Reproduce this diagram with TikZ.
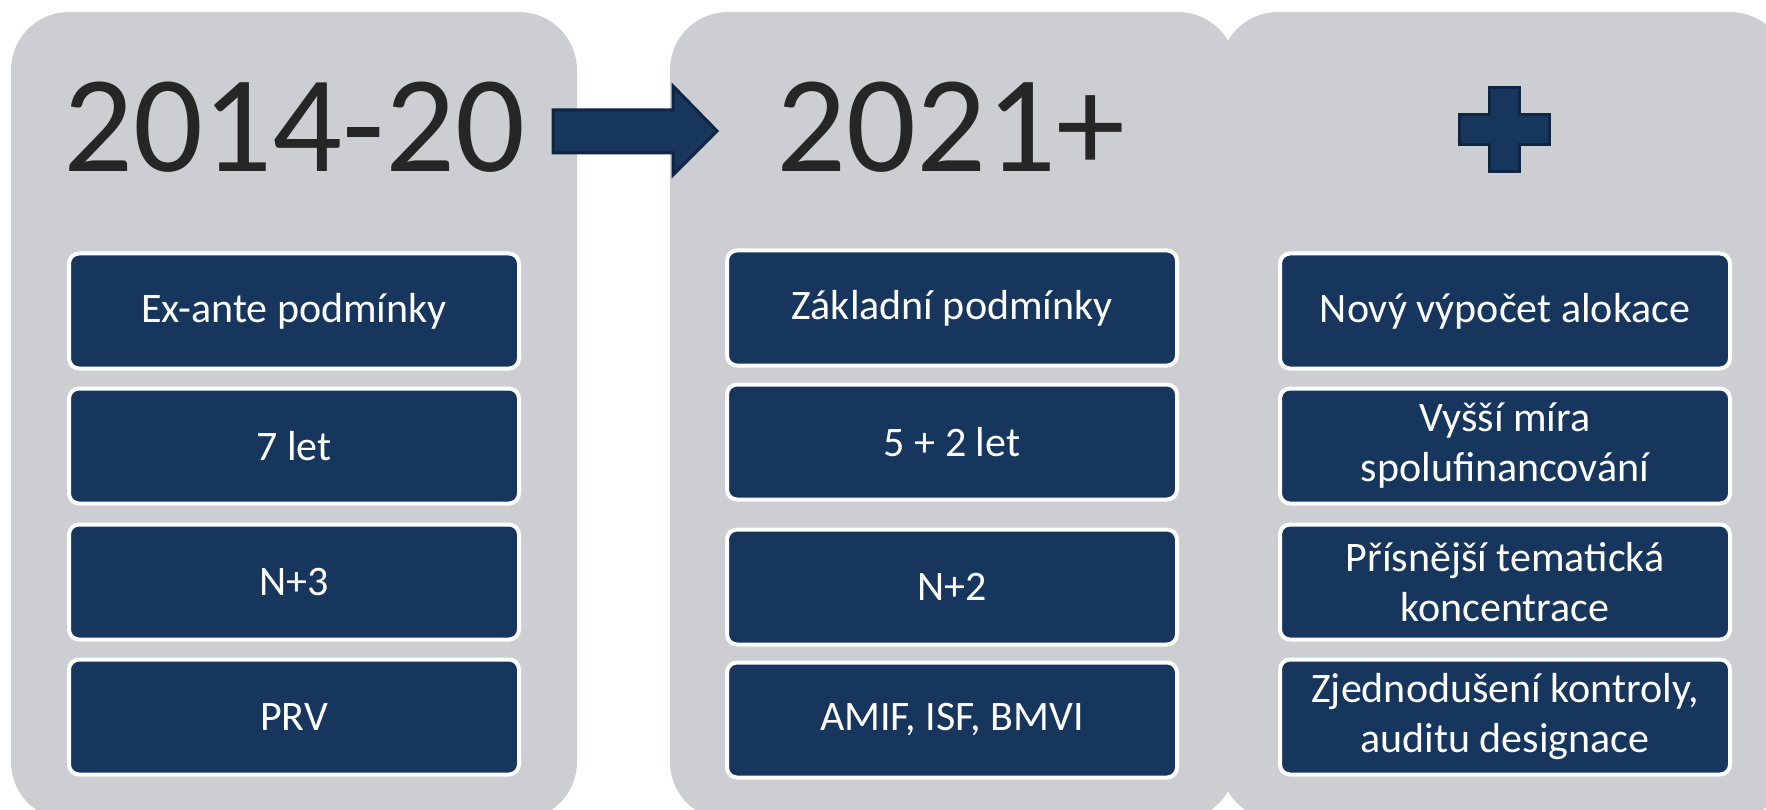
\documentclass[tikz,border=0pt]{standalone}
\usepackage{fontspec}
\setmainfont{Carlito}
\definecolor{panelgrey}{HTML}{CDCED2}
\definecolor{navy}{HTML}{17365D}
\definecolor{navyedge}{HTML}{0F2544}
\definecolor{titlegrey}{HTML}{262626}
\begin{document}
\begin{tikzpicture}[x=1pt, y=-1pt,
    panel/.style={fill=panelgrey, rounded corners=58pt},
    itembox/.style={draw=white, line width=4pt, fill=navy, rounded corners=10pt,
      minimum width=450pt, minimum height=115pt, inner sep=0pt,
      text=white, align=center, font=\fontsize{42}{50}\selectfont},
    yeartitle/.style={text=titlegrey, anchor=base, inner sep=0pt,
      font=\fontsize{138}{140}\selectfont},
    iconshape/.style={draw=navyedge, fill=navy, line width=3pt, line join=miter}]
  \useasboundingbox (0,0) rectangle (1766,810);

  % Grey panels
  \fill[panel] (11,12) rectangle (577,820);
  \fill[panel] (670,12) rectangle (1236,820);
  \fill[panel] (1220,12) rectangle (1788,820);

  % Headings
  \node[yeartitle] (oldyear) at (294,172) {2014-20};
  \node[yeartitle] (newyear) at (951,172) {2021+};

  % Arrow and plus
  \draw[iconshape] (553,110) -- (673,110) -- (673,86) -- (717,131)
    -- (673,175) -- (673,153) -- (553,153) -- cycle;
  \draw[iconshape] (1489,88) -- (1519,88) -- (1519,115) -- (1549,115)
    -- (1549,145) -- (1519,145) -- (1519,172) -- (1489,172) -- (1489,145)
    -- (1459,145) -- (1459,115) -- (1489,115) -- cycle;

  % First column
  \node[itembox] (old1) at (294,311) {Ex-ante podmínky};
  \node[itembox] (old2) at (294,446) {7 let};
  \node[itembox] (old3) at (294,582) {N+3};
  \node[itembox] (old4) at (294,717) {PRV};

  % Second column
  \node[itembox] (new1) at (952,308) {Základní podmínky};
  \node[itembox] (new2) at (952,442) {5 + 2 let};
  \node[itembox] (new3) at (952,587) {N+2};
  \node[itembox] (new4) at (952,720) {AMIF, ISF, BMVI};

  % Third column
  \node[itembox] (add1) at (1505,311) {Nový výpočet alokace};
  \node[itembox] (add2) at (1505,446) {Vyšší míra\\spolufinancování};
  \node[itembox] (add3) at (1505,582) {Přísnější tematická\\koncentrace};
  \node[itembox] (add4) at (1505,717) {Zjednodušení kontroly,\\auditu designace};
\end{tikzpicture}
\end{document}
